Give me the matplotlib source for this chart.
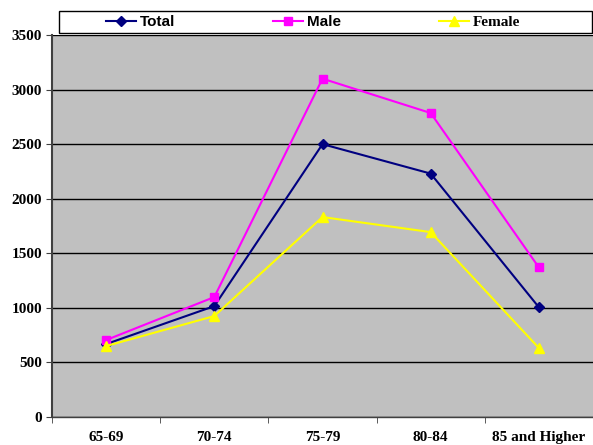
import matplotlib
matplotlib.use("Agg")
import matplotlib.pyplot as plt
from matplotlib.patches import Rectangle
import numpy as np

categories = ["65-69", "70-74", "75-79", "80-84", "85 and Higher"]
total = [668, 1016, 2500, 2230, 1005]
male = [705, 1099, 3100, 2785, 1370]
female = [650, 925, 1832, 1694, 632]
yticks = [0, 500, 1000, 1500, 2000, 2500, 3000, 3500]

W, H = 593, 445
fig = plt.figure(figsize=(W/100, H/100), dpi=100)
ax = fig.add_axes([52/W, 28/H, (W-52)/W, (417-35)/H])
ax.set_facecolor("#C0C0C0")

x = np.arange(len(categories))
ax.plot(x, total, color="#000080", marker="D", markersize=5, lw=1.5, label="Total", zorder=3)
ax.plot(x, male, color="#FF00FF", marker="s", markersize=6, lw=1.5, label="Male", zorder=3)
ax.plot(x, female, color="#FFFF00", marker="^", markersize=7, lw=1.5, label="Female", zorder=3)

ax.set_xlim(-0.5, len(categories) - 0.5)
ax.set_ylim(0, 3500)
ax.set_yticks(yticks)
ax.set_yticklabels([str(v) for v in yticks], fontfamily="Liberation Serif",
                   fontweight="bold", fontsize=11)
ax.yaxis.grid(True, color="black", lw=1)
ax.set_axisbelow(True)

ax.set_xticks(x)
ax.set_xticklabels(categories, fontfamily="Liberation Serif", fontweight="bold", fontsize=11)
ax.tick_params(axis="x", which="major", length=0, pad=10)
ax.set_xticks(np.arange(len(categories) + 1) - 0.5, minor=True)
ax.tick_params(axis="x", which="minor", length=4, color="#404040")
ax.tick_params(axis="y", length=4, color="#404040", pad=3)

for s in ["top", "right"]:
    ax.spines[s].set_visible(False)
ax.spines["left"].set_color("#404040")
ax.spines["left"].set_linewidth(1.5)
ax.spines["bottom"].set_color("#404040")
ax.spines["bottom"].set_linewidth(1.0)

# legend frame
fig.patches.append(Rectangle((59/W, 1 - 33/H), (W - 59)/W - 0.002, 22/H, transform=fig.transFigure,
                             facecolor="white", edgecolor="black", lw=1, zorder=5))

fs = 11
leg = fig.legend(loc="center", bbox_to_anchor=(313/W, 1 - 22/H), ncol=3, frameon=False,
                 handlelength=30/(fs*100/72), handletextpad=4/(fs*100/72),
                 columnspacing=98/(fs*100/72), borderaxespad=0, borderpad=0,
                 prop={"family": "Liberation Sans", "weight": "bold", "size": fs})
leg.set_zorder(6)
leg.get_texts()[2].set_fontfamily("Liberation Serif")
leg.get_texts()[2].set_fontsize(11)

fig.savefig("out.png", dpi=100, facecolor="white")
